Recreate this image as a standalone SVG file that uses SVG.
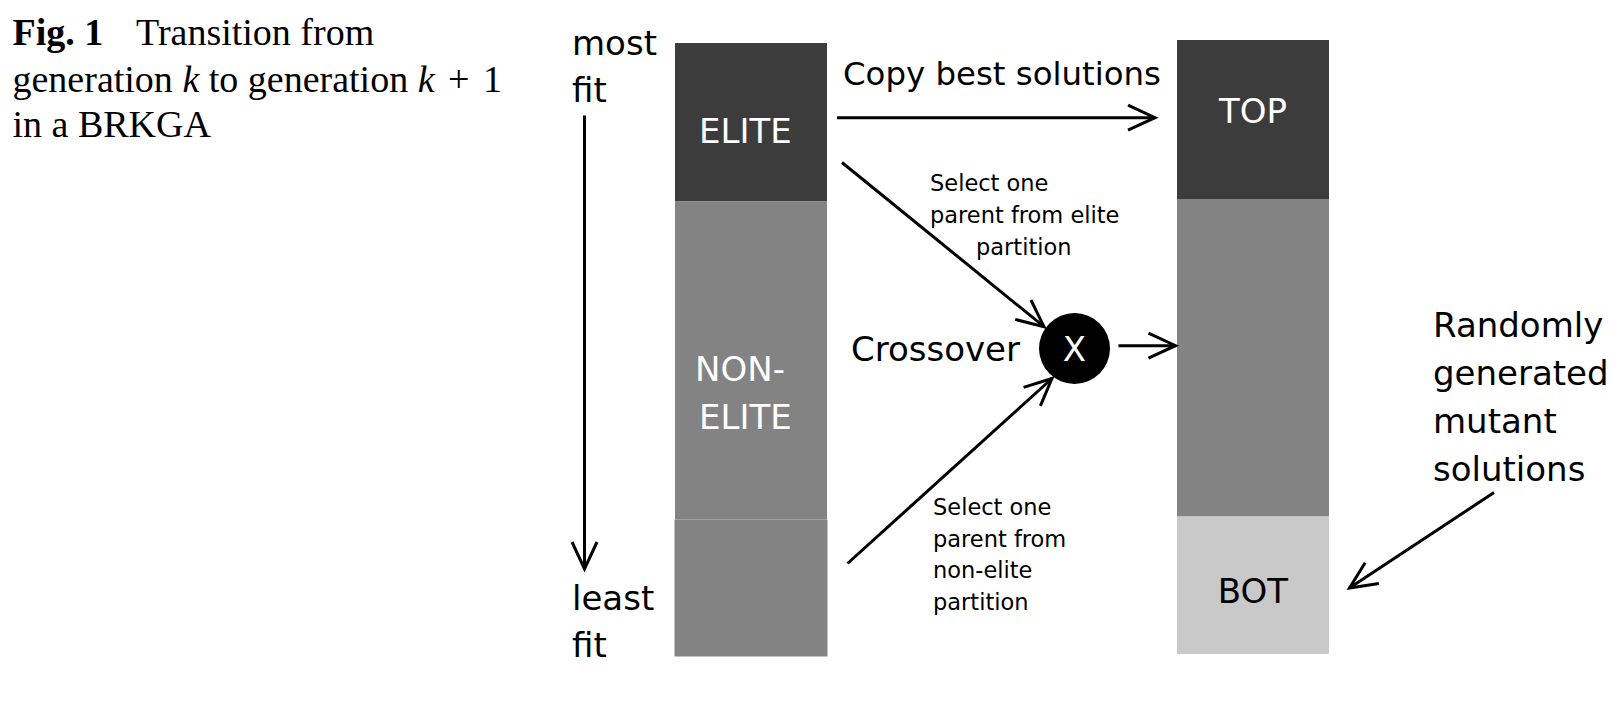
<svg xmlns="http://www.w3.org/2000/svg" width="1624" height="713" viewBox="0 0 1624 713">
  <style>
    .cap { font-family: "Liberation Serif", "Times New Roman", serif; font-size: 38px; fill: #000; }
    .lbl { font-family: "DejaVu Sans", sans-serif; font-size: 34px; fill: #000; }
    .wlbl { font-family: "DejaVu Sans", sans-serif; font-size: 34px; fill: #fff; }
    .small { font-family: "DejaVu Sans", sans-serif; font-size: 22.5px; fill: #000; }
    .conn { fill: none; stroke: #000; stroke-width: 3; marker-end: url(#arr); }
    .dark { fill: #3c3c3c; }
    .mid { fill: #838383; }
    .light { fill: #c9c9c9; }
  </style>
  <defs>
    <marker id="arr" markerUnits="userSpaceOnUse" orient="auto" overflow="visible" markerWidth="32" markerHeight="30" refX="0" refY="0" viewBox="-30 -15 32 30">
      <path d="M-27,-12.5 L0,0 L-27,12.5" fill="none" stroke="#000" stroke-width="3"/>
    </marker>
  </defs>
  <rect width="1624" height="713" fill="#fff"/>

  <g id="caption">
    <text class="cap" x="12.5" y="45"><tspan font-weight="bold">Fig. 1</tspan><tspan x="136">Transition from</tspan></text>
    <text class="cap" x="12.5" y="92">generation <tspan font-style="italic">k</tspan> to generation <tspan font-style="italic">k</tspan> <tspan dx="4">+</tspan> <tspan dx="4">1</tspan></text>
    <text class="cap" x="12.5" y="137">in a BRKGA</text>
  </g>

  <g id="fitness-axis">
    <text class="lbl" x="572" y="55">most</text>
    <text class="lbl" x="572" y="102">fit</text>
    <text class="lbl" x="572" y="610">least</text>
    <text class="lbl" x="572" y="657">fit</text>
  </g>

  <g id="generation-k">
    <rect class="dark" x="675" y="43" width="152" height="158.5"/>
    <rect class="mid" x="675" y="201.5" width="152" height="318"/>
    <rect class="mid" x="674.5" y="519.5" width="153" height="137"/>
    <text class="wlbl" x="699" y="143">ELITE</text>
    <text class="wlbl" x="695" y="381">NON-</text>
    <text class="wlbl" x="699" y="429">ELITE</text>
  </g>

  <g id="generation-k1">
    <rect class="dark" x="1177" y="40" width="152" height="159"/>
    <rect class="mid" x="1177" y="199" width="152" height="317.5"/>
    <rect class="light" x="1177" y="516.5" width="152" height="137.5"/>
    <text class="wlbl" x="1253" y="123" text-anchor="middle">TOP</text>
    <text class="lbl" x="1253" y="603" text-anchor="middle">BOT</text>
  </g>

  <g id="crossover">
    <circle cx="1074.5" cy="348.5" r="35.5" fill="#000"/>
    <text class="wlbl" x="1074.5" y="361" text-anchor="middle">X</text>
    <text class="lbl" x="851" y="361">Crossover</text>
  </g>

  <g id="labels">
    <text class="lbl" x="843" y="85" style="font-size:32.4px">Copy best solutions</text>
    <text class="small" x="930" y="191">Select one</text>
    <text class="small" x="930" y="223">parent from elite</text>
    <text class="small" x="976" y="255">partition</text>
    <text class="small" x="933" y="515">Select one</text>
    <text class="small" x="933" y="547">parent from</text>
    <text class="small" x="933" y="578">non-elite</text>
    <text class="small" x="933" y="610">partition</text>
    <text class="lbl" x="1433" y="337">Randomly</text>
    <text class="lbl" x="1433" y="385">generated</text>
    <text class="lbl" x="1433" y="433">mutant</text>
    <text class="lbl" x="1433" y="481">solutions</text>
  </g>

  <g id="connectors">
    <line class="conn" x1="584.5" y1="115.5" x2="584.5" y2="569"/>
    <line class="conn" x1="837" y1="117.7" x2="1155" y2="117.7"/>
    <line class="conn" x1="842" y1="162.5" x2="1044" y2="326.7"/>
    <line class="conn" x1="847.5" y1="563.5" x2="1052" y2="378.5"/>
    <line class="conn" x1="1118.5" y1="345.7" x2="1175.5" y2="345.7"/>
    <line class="conn" x1="1494" y1="492.5" x2="1349.5" y2="588"/>
  </g>
</svg>
